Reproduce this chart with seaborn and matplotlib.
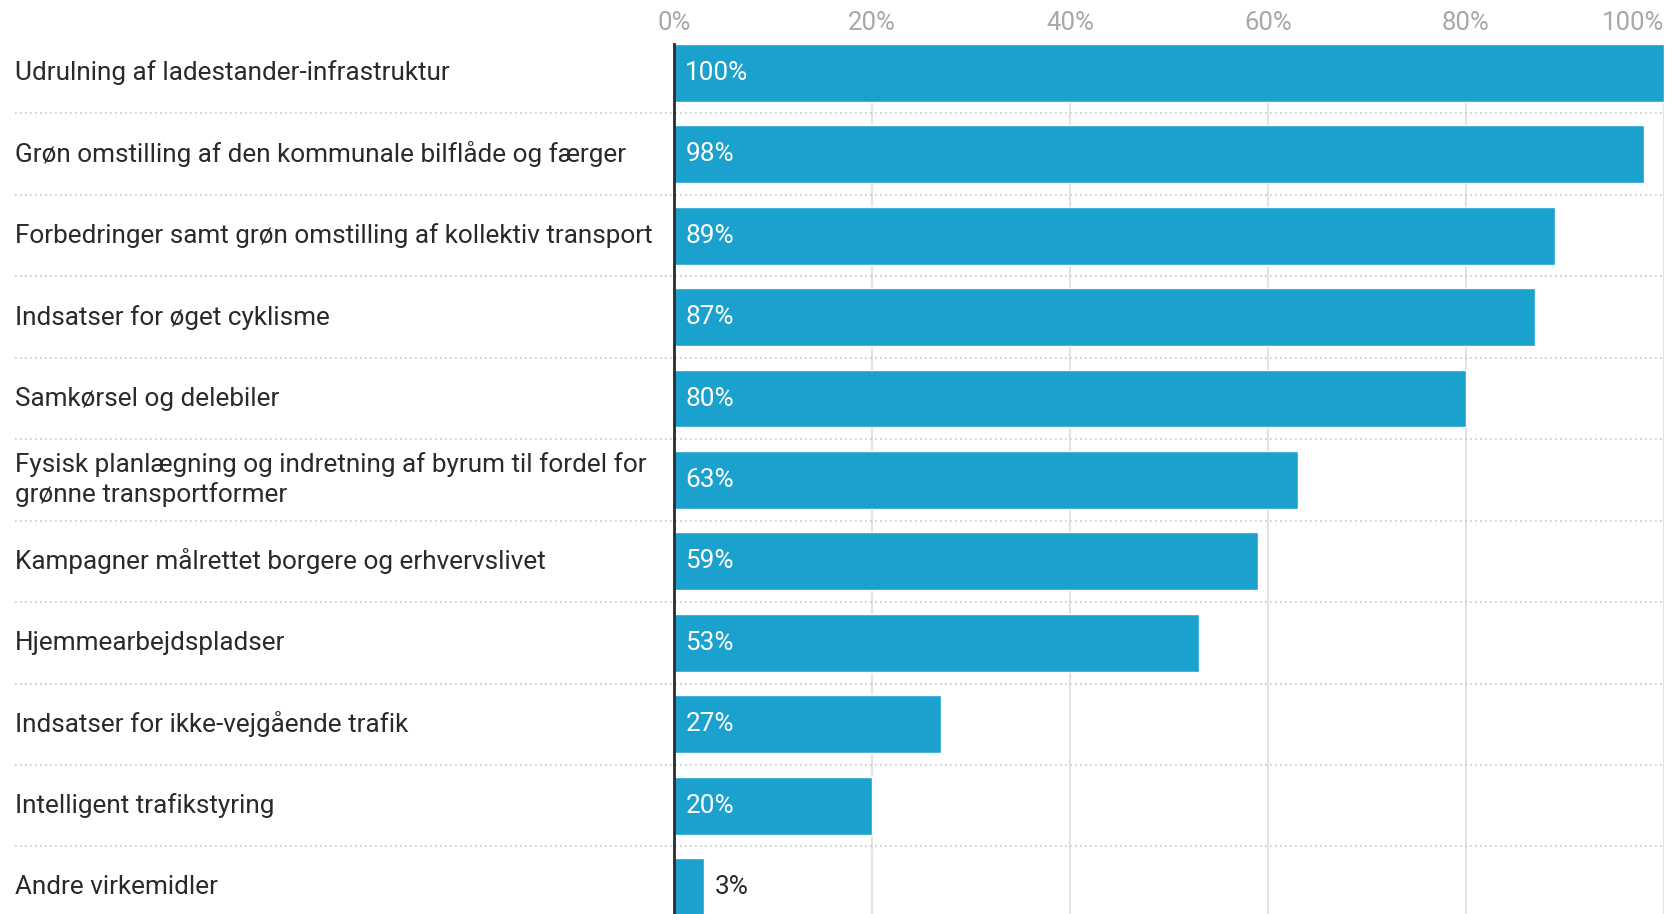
import matplotlib
matplotlib.use("Agg")
import matplotlib.pyplot as plt
import matplotlib.transforms as mtransforms
from matplotlib.lines import Line2D
import seaborn as sns
import pandas as pd

categories = [
    "Udrulning af ladestander-infrastruktur",
    "Grøn omstilling af den kommunale bilflåde og færger",
    "Forbedringer samt grøn omstilling af kollektiv transport",
    "Indsatser for øget cyklisme",
    "Samkørsel og delebiler",
    "Fysisk planlægning og indretning af byrum til fordel for\ngrønne transportformer",
    "Kampagner målrettet borgere og erhvervslivet",
    "Hjemmearbejdspladser",
    "Indsatser for ikke-vejgående trafik",
    "Intelligent trafikstyring",
    "Andre virkemidler",
]
values = [100, 98, 89, 87, 80, 63, 59, 53, 27, 20, 3]
ticks = [0, 20, 40, 60, 80, 100]

bar_color = "#1ba1cd"
text_color = "#2a2a2a"

sns.set_theme(style="white")
plt.rcParams["font.family"] = ["Roboto", "DejaVu Sans"]

df = pd.DataFrame({"label": categories, "value": values})

fig = plt.figure(figsize=(16.68, 9.14), dpi=100)
ax = fig.add_axes([0.404, 0.0, 0.9976 - 0.404, 0.952])

sns.barplot(data=df, y="label", x="value", orient="h", color=bar_color,
            saturation=1, width=0.71, ax=ax, zorder=3)

ax.set_xlim(0, 100)
ax.set_ylim(10.33, -0.355)
ax.set_xticks(ticks)
ax.set_xticklabels([f"{t}%" for t in ticks])
ax.xaxis.tick_top()
ax.tick_params(axis="x", length=0, pad=6.5, labelsize=18.5, colors="#a8a8a8")
ax.get_xticklabels()[-1].set_horizontalalignment("right")
ax.set_yticks([])
ax.set_xlabel("")
ax.set_ylabel("")

for s in ["top", "right", "bottom"]:
    ax.spines[s].set_visible(False)
ax.spines["left"].set_color("#2b2b2b")
ax.spines["left"].set_linewidth(2)
ax.spines["left"].set_zorder(5)

for t in ticks[1:]:
    ax.axvline(t, color="#e3e3e3", lw=1.5, zorder=1)

# row separators, spanning from the label column to the right edge
trans = mtransforms.blended_transform_factory(fig.transFigure, ax.transData)
for i in range(len(categories) - 1):
    ax.add_line(Line2D([0.009, 0.998], [i + 0.5, i + 0.5], transform=trans,
                       color="#c8c8c8", lw=1.2, ls=(0, (1, 2)),
                       clip_on=False, zorder=2))

# category labels
for i, lab in enumerate(categories):
    ax.text(0.009, i, lab, transform=trans, ha="left", va="center",
            fontsize=18.8, color=text_color, linespacing=1.25)

# value labels
for i, v in enumerate(values):
    if v >= 10:
        ax.text(1.15, i, f"{v}%", ha="left", va="center", fontsize=18.8,
                color="white", zorder=6)
    else:
        ax.text(v + 1.1, i, f"{v}%", ha="left", va="center", fontsize=18.8,
                color=text_color, zorder=6)

fig.savefig("out.png", dpi=100)
